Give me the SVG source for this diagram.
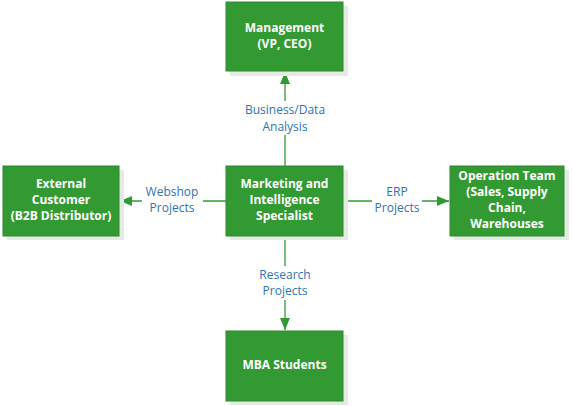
<svg xmlns="http://www.w3.org/2000/svg" width="572" height="406" viewBox="0 0 572 406">
<defs>
<marker id="ah" viewBox="0 0 12 10" refX="12" refY="5" markerWidth="12" markerHeight="10" markerUnits="userSpaceOnUse" orient="auto">
<path d="M0,0 L12,5 L0,10 z" fill="#339933"/>
</marker>
</defs>
<style>
.shadow{fill:#e3ebe3}
.box{fill:#339933;stroke:#2e8a2e;stroke-width:1}
.t{font-family:"Open Sans","Noto Sans","Liberation Sans",sans-serif;font-size:12px;font-weight:bold;fill:#ffffff;text-anchor:middle}
.l{font-family:"Open Sans","Noto Sans","Liberation Sans",sans-serif;font-size:12px;fill:#2e74b5;text-anchor:middle}
.c{stroke:#339933;stroke-width:1.3;fill:none}
.bg{fill:#ffffff}
</style>
<rect width="572" height="406" fill="#ffffff"/>
<g id="connectors">
<line class="c" x1="285" y1="166" x2="285" y2="72" marker-end="url(#ah)"/>
<line class="c" x1="226" y1="201" x2="120" y2="201" marker-end="url(#ah)"/>
<line class="c" x1="343" y1="201" x2="449" y2="201" marker-end="url(#ah)"/>
<line class="c" x1="285" y1="236" x2="285" y2="330" marker-end="url(#ah)"/>
<rect class="bg" x="240" y="101" width="90" height="34"/>
<rect class="bg" x="142" y="184" width="61" height="32"/>
<rect class="bg" x="372" y="184" width="50" height="32"/>
<rect class="bg" x="250" y="266" width="70" height="34"/>
<text class="l" x="285" y="114">Business/Data</text>
<text class="l" x="285" y="131">Analysis</text>
<text class="l" x="172" y="196">Webshop</text>
<text class="l" x="172" y="212">Projects</text>
<text class="l" x="397" y="196">ERP</text>
<text class="l" x="397" y="212">Projects</text>
<text class="l" x="285" y="279">Research</text>
<text class="l" x="285" y="295">Projects</text>
</g>
<g id="management">
<rect class="shadow" x="230" y="6" width="118" height="70"/>
<rect class="box" x="226" y="2" width="117" height="69"/>
<text class="t" x="284.5" y="32">Management</text>
<text class="t" x="284.5" y="48">(VP, CEO)</text>
</g>
<g id="specialist">
<rect class="shadow" x="230" y="170" width="118" height="70"/>
<rect class="box" x="226" y="166" width="117" height="70"/>
<text class="t" x="284.5" y="188">Marketing and</text>
<text class="t" x="284.5" y="204">Intelligence</text>
<text class="t" x="284.5" y="220">Specialist</text>
</g>
<g id="external">
<rect class="shadow" x="7" y="170" width="117" height="70"/>
<rect class="box" x="3" y="166" width="116" height="70"/>
<text class="t" x="61" y="188">External</text>
<text class="t" x="61" y="204">Customer</text>
<text class="t" x="61" y="220">(B2B Distributor)</text>
</g>
<g id="operation">
<rect class="shadow" x="454" y="170" width="115" height="70"/>
<rect class="box" x="450" y="166" width="114" height="70"/>
<text class="t" x="507" y="180">Operation Team</text>
<text class="t" x="507" y="196">(Sales, Supply</text>
<text class="t" x="507" y="212">Chain,</text>
<text class="t" x="507" y="228">Warehouses</text>
</g>
<g id="mba">
<rect class="shadow" x="230" y="335" width="118" height="70"/>
<rect class="box" x="226" y="331" width="117" height="70"/>
<text class="t" x="284.5" y="369">MBA Students</text>
</g>
</svg>
